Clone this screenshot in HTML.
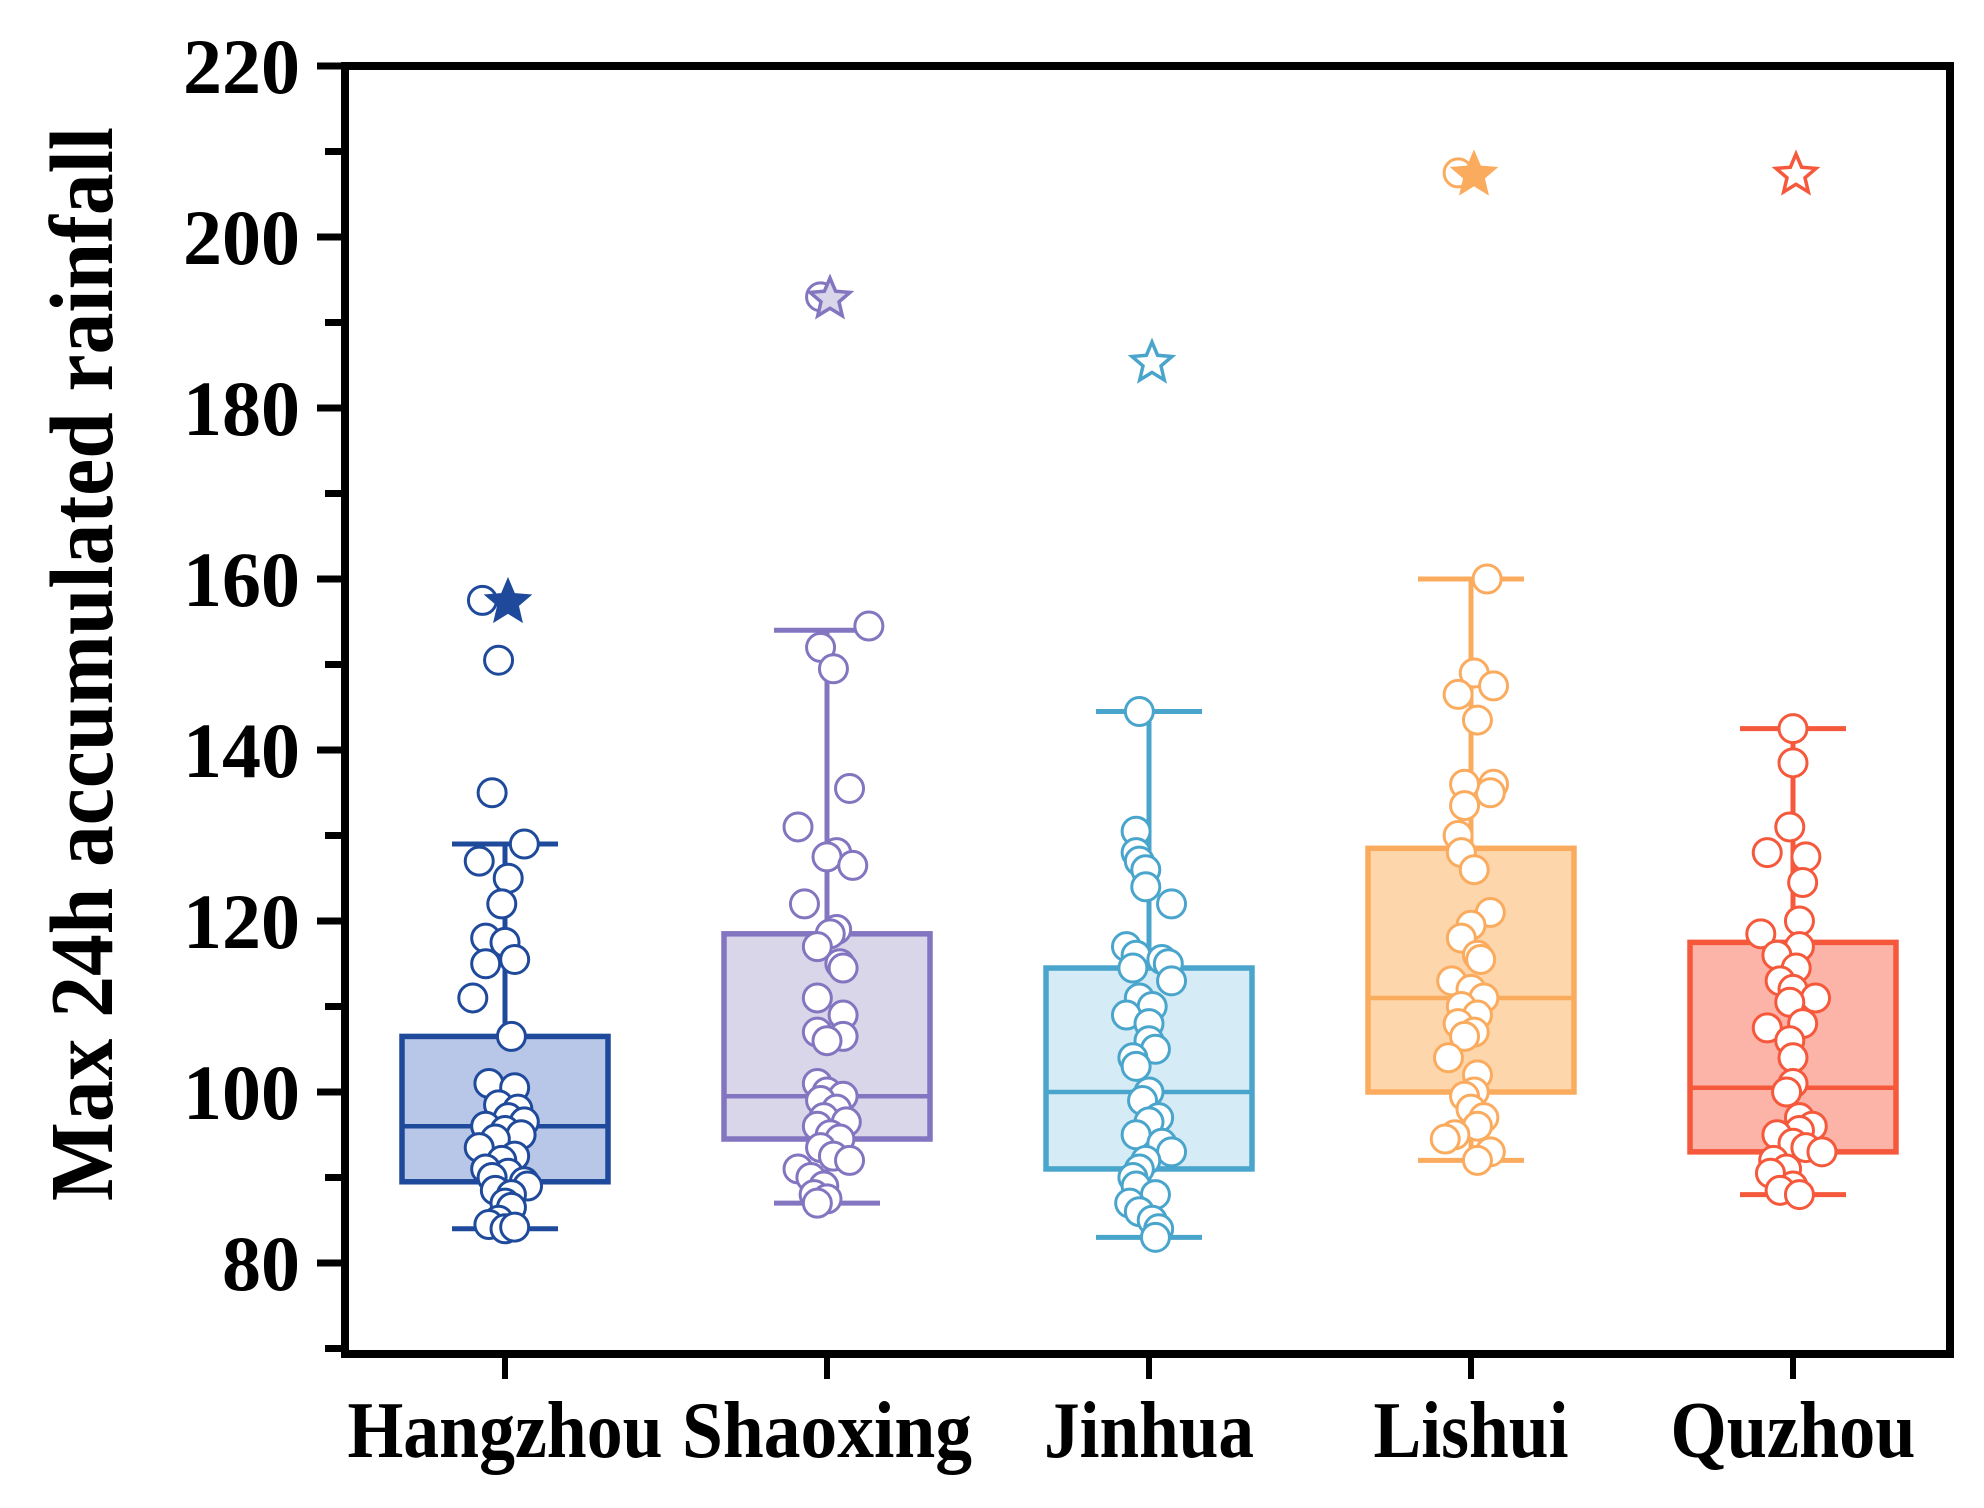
<!DOCTYPE html>
<html><head><meta charset="utf-8"><style>
html,body{margin:0;padding:0;background:#fff;}
svg{display:block;}
text{font-family:"Liberation Serif",serif;font-weight:bold;fill:#000;}
</style></head>
<body>
<svg id="chart" width="1984" height="1508" viewBox="0 0 1984 1508" xmlns="http://www.w3.org/2000/svg">
<rect x="0" y="0" width="1984" height="1508" fill="#fff"/>
<g id="plot"></g>
<g id="axes"></g>
</svg>
<script>
const categories = ["Hangzhou","Shaoxing","Jinhua","Lishui","Quzhou"];
const whiskerLow = [84, 87, 83, 92, 88];
const whiskerHigh = [129, 154, 144.5, 160, 142.5];
const q1 = [89.5, 94.5, 91, 100, 93];
const q3 = [106.5, 118.5, 114.5, 128.5, 117.5];
const medians = [96, 99.5, 100, 111, 100.5];
const outlierStar = [157.5, 193, 185.5, 207.5, 207.5];
const yTicks = [80,100,120,140,160,180,200,220];
const hangzhouPts = [[157.5,-.07],[150.5,-.02],[135,-.04],[129,.06],[127,-.08],[125,.01],[122,-.01],[118,-.06],[117.5,0],[115.5,.03],[115,-.06],[111,-.1],[106.5,.02],[101,-.05],[100.5,.03],[98.5,-.02],[98,.04],[97,.01],[96.5,.06],[96,-.06],[95.5,0],[95,.05],[94.5,-.03],[93.5,-.08],[92.5,.03],[92,-.01],[91,-.06],[90.5,.01],[90,-.04],[89.5,.06],[89,.07],[88.5,-.03],[88,.02],[87,0],[86.5,.02],[85,-.02],[84.5,-.05],[84,0],[84.2,.03]];
const shaoxingPts = [[193,-.02],[154.5,.13],[152,-.02],[149.5,.02],[135.5,.07],[131,-.09],[128,.03],[127.5,0],[126.5,.08],[122,-.07],[119,.03],[118.5,.01],[117,-.03],[115,.04],[114.5,.05],[111,-.03],[109,.05],[107,-.03],[106.5,.05],[106,0],[101,-.03],[100,0],[99.5,.05],[99,-.02],[98,.03],[97,-.01],[96.5,.06],[96,-.03],[95,.01],[94.5,.04],[93.5,-.02],[92.5,.02],[92,.07],[91,-.09],[90,-.05],[89,-.01],[88,-.04],[87.5,0],[87,-.03]];
const jinhuaPts = [[144.5,-.03],[130.5,-.04],[128,-.04],[127,-.03],[126,-.01],[124,-.01],[122,.07],[117,-.07],[116,-.04],[115.5,.04],[115,.06],[114.5,-.05],[113,.07],[111,-.03],[110,.01],[109,-.07],[108,0],[106,0],[105,.02],[104,-.05],[103,-.04],[100,0],[99,-.02],[97,.03],[96.5,0],[95,-.04],[94,.04],[93,.07],[92,-.01],[91,-.03],[90,-.05],[89,-.04],[88,.02],[87,-.06],[86,-.03],[85,.01],[84,.03],[83,.02]];
const lishuiPts = [[207.5,-.04],[160,.05],[149,.01],[147.5,.07],[146.5,-.04],[143.5,.02],[136,.07],[135,.06],[136,-.02],[133.5,-.02],[130,-.04],[128,-.03],[126,.01],[121,.06],[119.5,0],[118,-.03],[116,.02],[115.5,.03],[113,-.06],[112,0],[111,.04],[110,-.03],[109,.02],[108,-.04],[107,.01],[106.5,-.02],[104,-.07],[102,.02],[100,.01],[99.5,-.02],[98,0],[97,.04],[96,.02],[95,-.05],[94.5,-.08],[93,.06],[92,.02]];
const quzhouPts = [[142.5,0],[138.5,0],[131,-.01],[128,-.08],[127.5,.04],[124.5,.03],[120,.02],[118.5,-.1],[117,.02],[116,-.05],[114.5,.01],[113,-.04],[112,0],[111,.07],[110.5,-.01],[108,.03],[107.5,-.08],[106,-.01],[104,0],[101,0],[100,-.02],[97,.02],[96,.06],[95.5,.02],[95,-.05],[94,0],[93.5,.04],[93,.09],[92,-.06],[91,-.02],[90.5,-.07],[89,0],[88.5,-.04],[88,.02]];
const allPts = [hangzhouPts, shaoxingPts, jinhuaPts, lishuiPts, quzhouPts];

const strokeCols = ["#1f4a9c","#8475c0","#4aa5cc","#fbab5e","#f5583a"];
const fillCols = ["#b8c6e8","#d8d6e8","#d5ecf6","#fdd6ac","#fcb3a8"];
const starFills = ["#1f4a9c","#d8d6e8","#fff","#fbab5e","#fff"];

const NS = "http://www.w3.org/2000/svg";
const plot = document.getElementById('plot');
const axes = document.getElementById('axes');
const X0 = 345, X1 = 1950, YT = 66, YB = 1354;
function yScale(v){ return YT + (220 - v) * 8.55; }
function xScale(i){ return 505 + i * 322; }
const unit = 322;
function mk(tag, attrs, parent){
  const e = document.createElementNS(NS, tag);
  for (const k in attrs) e.setAttribute(k, attrs[k]);
  parent.appendChild(e);
  return e;
}
function starPath(cx, cy, R){
  const r = R*0.45; let d = "";
  for (let k=0;k<10;k++){
    const a = -Math.PI/2 + k*Math.PI/5;
    const rr = k%2===0 ? R : r;
    d += (k===0?"M":"L") + (cx+rr*Math.cos(a)).toFixed(1) + " " + (cy+rr*Math.sin(a)).toFixed(1);
  }
  return d + "Z";
}
categories.forEach((c, i) => {
  const g = mk('g', {}, plot);
  
  
  const cx = xScale(i), col = strokeCols[i];
  const w = mk('line', {x1:cx, x2:cx, y1:yScale(whiskerLow[i]), y2:yScale(whiskerHigh[i]), stroke:col, 'stroke-width':5}, g);
  
  
  [whiskerLow[i], whiskerHigh[i]].forEach(v => {
    const cap = mk('line', {x1:cx-53, x2:cx+53, y1:yScale(v), y2:yScale(v), stroke:col, 'stroke-width':5}, g);
    
    
  });
  const b = mk('rect', {x:cx-103, y:yScale(q3[i]), width:206, height:yScale(q1[i])-yScale(q3[i]), fill:fillCols[i], stroke:col, 'stroke-width':5.5}, g);
  
  
  const m = mk('line', {x1:cx-103, x2:cx+103, y1:yScale(medians[i]), y2:yScale(medians[i]), stroke:col, 'stroke-width':4.5}, g);
  
  
  allPts[i].forEach(p => {
    const pt = mk('circle', {cx:cx + p[1]*unit, cy:yScale(p[0]), r:14, fill:'#fff', stroke:col, 'stroke-width':3}, g);
    
    
  });
  const s = mk('path', {d:starPath(cx+3, yScale(outlierStar[i])+2, 21), fill:starFills[i], stroke:col, 'stroke-width':3.5, 'stroke-linejoin':'miter'}, g);
  
  
  const t = mk('line', {x1:cx, x2:cx, y1:YB, y2:YB+25, stroke:'#000', 'stroke-width':6}, axes);
  
  
  const lbl = mk('text', {x:cx, y:1457, 'font-size':80, 'text-anchor':'middle', textLength: [315,290,210,195,245][i], lengthAdjust:'spacingAndGlyphs'}, axes);
  
  
  lbl.textContent = c;
});
for (let v = 70; v <= 220; v += 10){
  const major = yTicks.includes(v);
  const t = mk('line', {x1:major?X0-28:X0-20, x2:X0, y1:yScale(v), y2:yScale(v), stroke:'#000', 'stroke-width':7}, axes);
  
  
}
yTicks.forEach(v => {
  const l = mk('text', {x:300, y:yScale(v)+27, 'font-size':78, 'text-anchor':'end'}, axes);
  
  
  l.textContent = v;
});
const frame = mk('rect', {x:X0, y:YT, width:X1-X0, height:YB-YT, fill:'none', stroke:'#000', 'stroke-width':8}, axes);


const yt = mk('text', {x:0, y:0, 'font-size':90, 'text-anchor':'middle', transform:'translate(112,664) rotate(-90)', textLength:1074, lengthAdjust:'spacingAndGlyphs'}, axes);


yt.textContent = 'Max 24h accumulated rainfall';
</script>
</body></html>
